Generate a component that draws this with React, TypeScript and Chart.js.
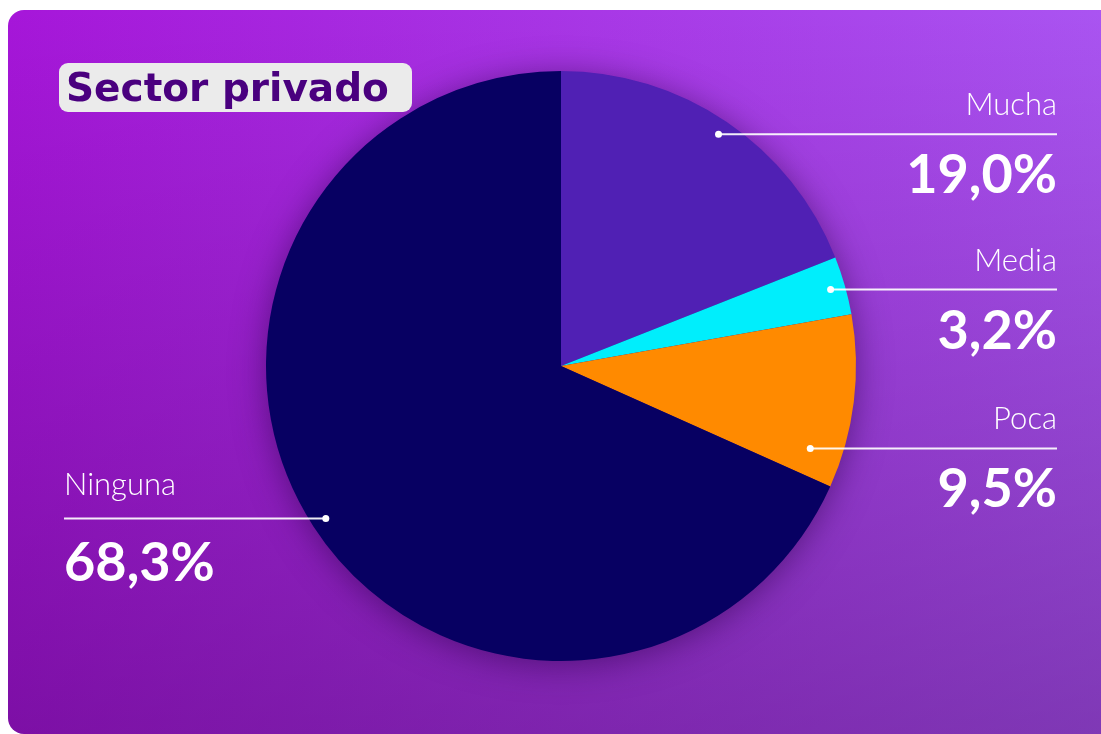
import React, { useEffect, useRef } from "react";
import { Chart, registerables } from "chart.js";

Chart.register(...registerables);

const categories = ["Mucha", "Media", "Poca", "Ninguna"];
const values = [19.0, 3.2, 9.5, 68.3];
const sliceColors = ["#5020b4", "#00eefc", "#ff8a00", "#070062"];
const anchorFraction = [0.5, 0.5, 0.83, 0.5];
const anchorRadius = [0.95, 0.95, 0.89, 0.95];
const title = "Sector privado";

const fmt = (v: number) => v.toFixed(1).replace(".", ",") + "%";

const shadowPlugin = {
  id: "pieShadow",
  beforeDatasetsDraw(chart: any) {
    const meta = chart.getDatasetMeta(0);
    const arc = meta.data[0];
    if (!arc) return;
    const { x, y, outerRadius } = arc.getProps(["x", "y", "outerRadius"], true);
    const ctx = chart.ctx;
    ctx.save();
    ctx.shadowColor = "rgba(40, 0, 70, 0.55)";
    ctx.shadowBlur = 34;
    ctx.shadowOffsetX = 0;
    ctx.shadowOffsetY = 4;
    ctx.beginPath();
    ctx.arc(x, y, outerRadius - 1, 0, Math.PI * 2);
    ctx.fillStyle = "#3a1080";
    ctx.fill();
    ctx.restore();
  },
};

const labelPlugin = {
  id: "sliceLabels",
  afterDatasetsDraw(chart: any) {
    const ctx = chart.ctx;
    const meta = chart.getDatasetMeta(0);
    const rightX = 1057;
    const leftX = 64;
    meta.data.forEach((arc: any, i: number) => {
      const p = arc.getProps(["x", "y", "startAngle", "endAngle", "outerRadius"], true);
      const a = p.startAngle + anchorFraction[i] * (p.endAngle - p.startAngle);
      const r = p.outerRadius * anchorRadius[i];
      const dx = p.x + Math.cos(a) * r;
      const dy = p.y + Math.sin(a) * r;
      const right = Math.cos(a) > 0;
      const endX = right ? rightX : leftX;
      ctx.save();
      ctx.strokeStyle = "rgba(255,255,255,0.92)";
      ctx.lineWidth = 2;
      ctx.beginPath();
      ctx.moveTo(dx, dy);
      ctx.lineTo(endX, dy);
      ctx.stroke();
      ctx.fillStyle = "#ffffff";
      ctx.beginPath();
      ctx.arc(dx, dy, 3.5, 0, Math.PI * 2);
      ctx.fill();
      ctx.textAlign = right ? "right" : "left";
      ctx.textBaseline = "alphabetic";
      ctx.font = "300 31px Lato";
      ctx.fillText(categories[i], endX, dy - (right ? 19 : 23));
      ctx.font = "bold 54px Lato";
      ctx.fillText(fmt(values[i]), endX, dy + (right ? 59 : 63));
      ctx.restore();
    });
  },
};

export default function App() {
  const canvasRef = useRef<HTMLCanvasElement | null>(null);

  useEffect(() => {
    if (!canvasRef.current) return;
    const chart = new Chart(canvasRef.current, {
      type: "pie",
      data: {
        labels: categories,
        datasets: [
          {
            data: values,
            backgroundColor: sliceColors,
            borderWidth: 0,
          },
        ],
      },
      options: {
        responsive: false,
        animation: false,
        layout: { padding: { left: 266, right: 245, top: 71, bottom: 73 } },
        plugins: {
          legend: { display: false },
          tooltip: { enabled: false },
        },
      },
      plugins: [shadowPlugin, labelPlugin],
    });
    return () => chart.destroy();
  }, []);

  return (
    <div
      style={{
        position: "absolute",
        left: 0,
        top: 0,
        width: 1101,
        height: 734,
        background: "#ffffff",
        overflow: "hidden",
      }}
    >
      <div
        style={{
          position: "absolute",
          left: 8,
          top: 10,
          width: 1130,
          height: 724,
          borderRadius: 16,
          background:
            "linear-gradient(to bottom, rgba(40,0,60,0) 0%, rgba(40,0,60,0.33) 100%), linear-gradient(to right, #a616d9 0%, #aa56f2 100%)",
        }}
      />
      <canvas
        ref={canvasRef}
        width={1101}
        height={734}
        style={{ position: "absolute", left: 0, top: 0 }}
      />
      <div
        style={{
          position: "absolute",
          left: 59,
          top: 63,
          width: 353,
          height: 49,
          borderRadius: 9,
          background: "#ebebeb",
          color: "#4a007f",
          fontFamily: "'DejaVu Sans'",
          fontWeight: 700,
          fontSize: 39,
          lineHeight: "49px",
          boxSizing: "border-box",
          paddingLeft: 7,
          whiteSpace: "nowrap",
        }}
      >
        {title}
      </div>
    </div>
  );
}
